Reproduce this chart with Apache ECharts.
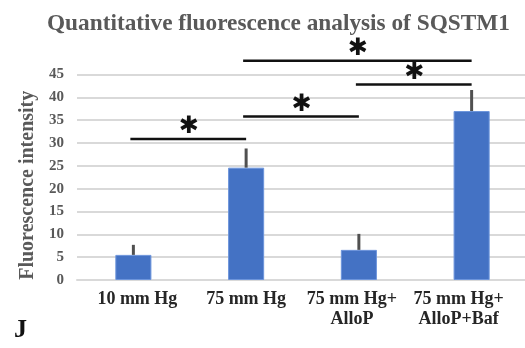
<!DOCTYPE html>
<html lang="en" style="height: 100%">
<head>
    <meta charset="utf-8">
</head>
<body style="height: 100%; margin: 0; background: #fff">
<div id="container" style="width: 525px; height: 348px"></div>

<script type="text/javascript" src="https://fastly.jsdelivr.net/npm/echarts@6/dist/echarts.min.js"></script>
<script type="text/javascript">
    // data
    var categories = ['10 mm Hg', '75 mm Hg', '75 mm Hg+\nAlloP', '75 mm Hg+\nAlloP+Baf'];
    var means = [5.5, 24.6, 6.6, 37.0];
    var errTops = [7.7, 28.8, 10.1, 41.6];
    // significance brackets: [from category, to category, height]
    var brackets = [
        [0, 1, 30.9],
        [1, 2, 35.8],
        [2, 3, 42.8],
        [1, 3, 48.0]
    ];

    var serif = '"Liberation Serif", "Times New Roman", serif';
    var dom = document.getElementById('container');
    var myChart = echarts.init(dom);

    // labels near the right edge get pushed left a little (like excel does)
    var labelShift = [-8, 0, 14, 26];

    var option = {
        animation: false,
        title: {
            text: 'Quantitative fluorescence analysis of SQSTM1',
            left: 42,
            top: 7,
            textStyle: {
                fontFamily: serif,
                fontWeight: 'bold',
                fontSize: 23.3,
                color: '#595959'
            }
        },
        graphic: [{
            type: 'text',
            left: 14,
            top: 317,
            style: {
                text: 'J',
                font: 'bold 26px ' + serif,
                fill: '#111'
            }
        }],
        grid: {
            left: 77,
            top: 74.5,
            width: 451,
            height: 205.5,
            containLabel: false,
            outerBoundsMode: 'none'
        },
        xAxis: {
            type: 'category',
            data: categories.map(function (c, i) {
                var s = labelShift[i];
                return {
                    value: c,
                    textStyle: { padding: s >= 0 ? [0, s, 0, 0] : [0, 0, 0, -s] }
                };
            }),
            axisLine: { show: true, lineStyle: { color: '#d9d9d9', width: 2 } },
            axisTick: { show: false },
            axisLabel: {
                interval: 0,
                margin: 9,
                fontFamily: serif,
                fontWeight: 'bold',
                fontSize: 18,
                lineHeight: 20,
                color: '#262626'
            }
        },
        yAxis: {
            type: 'value',
            min: 0,
            max: 45,
            interval: 5,
            name: 'Fluorescence intensity',
            nameLocation: 'middle',
            nameGap: 38,
            nameTextStyle: {
                fontFamily: serif,
                fontWeight: 'bold',
                fontSize: 20,
                color: '#595959',
                padding: [0, 16, 0, 0]
            },
            axisLine: { show: false },
            axisTick: { show: false },
            axisLabel: {
                margin: 13,
                fontFamily: serif,
                fontWeight: 'bold',
                fontSize: 15,
                color: '#595959'
            },
            splitLine: { lineStyle: { color: '#d9d9d9', width: 2 } }
        },
        series: [
            {
                type: 'bar',
                data: means,
                barWidth: '32%',
                itemStyle: {
                    color: '#4472c4',
                    borderColor: '#6d95dc',
                    borderWidth: 1
                }
            },
            {
                // error bars (upper only)
                type: 'custom',
                data: means.map(function (m, i) { return [i, m, errTops[i]]; }),
                renderItem: function (params, api) {
                    var p0 = api.coord([api.value(0), api.value(1)]);
                    var p1 = api.coord([api.value(0), api.value(2)]);
                    return {
                        type: 'line',
                        shape: { x1: p0[0], y1: p0[1], x2: p1[0], y2: p1[1] },
                        style: { stroke: '#505050', lineWidth: 3 }
                    };
                },
                z: 3
            },
            {
                // significance lines + stars
                type: 'custom',
                clip: false,
                data: brackets,
                renderItem: function (params, api) {
                    var a = api.coord([api.value(0), api.value(2)]);
                    var b = api.coord([api.value(1), api.value(2)]);
                    return {
                        type: 'group',
                        children: [
                            {
                                type: 'line',
                                shape: { x1: a[0] - 3, y1: a[1], x2: b[0], y2: b[1] },
                                style: { stroke: '#111', lineWidth: 2.5 }
                            },
                            {
                                type: 'text',
                                style: {
                                    x: (a[0] + b[0]) / 2 - 1,
                                    y: a[1],
                                    text: '✱',
                                    align: 'center',
                                    verticalAlign: 'bottom',
                                    font: '24px "DejaVu Sans"',
                                    fill: '#111'
                                }
                            }
                        ]
                    };
                },
                z: 4
            }
        ]
    };

    myChart.setOption(option);
    window.addEventListener('resize', myChart.resize);
</script>
</body>
</html>
